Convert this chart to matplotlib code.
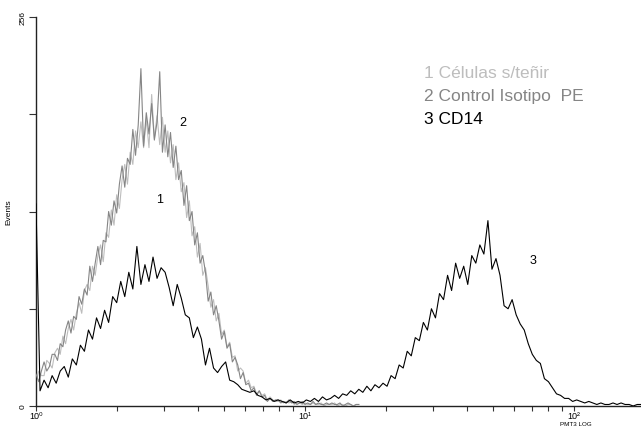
import numpy as np
import matplotlib
matplotlib.use("Agg")
import matplotlib.pyplot as plt
from matplotlib.ticker import LogLocator, NullFormatter, FixedLocator, FixedFormatter

plt.rcParams['font.family'] = ['Liberation Sans', 'DejaVu Sans']

# channel positions (log10 of fluorescence)
step12 = 0.01
step3 = 0.015

# 1 Células s/teñir (light gray)
s1 = [15, 23, 20, 20, 30, 28, 25, 35, 38, 34,
      46, 41, 51, 57, 50, 61, 68, 61, 76, 80,
      76, 92, 86, 99, 106, 95, 114, 111, 129, 119,
      139, 130, 149, 159, 146, 167, 159, 181, 170, 187,
      170, 189, 170, 205, 176, 191, 172, 190, 167, 181,
      160, 172, 149, 160, 141, 147, 124, 135, 112, 118,
      98, 107, 86, 91, 79, 65, 70, 56, 61, 47,
      50, 39, 42, 32, 33, 23, 25, 23, 15, 17,
      12, 13, 8, 10, 7, 8, 4, 6, 4, 3,
      3, 4, 2, 3, 2, 3, 1, 2, 2, 1,
      2, 1, 1, 2, 1, 1, 2, 0, 1, 1,
      1, 2, 0, 1, 1, 0, 1, 1, 0, 1, 1]

# 2 Control Isotipo PE (medium gray)
s2 = [21, 16, 23, 29, 23, 26, 34, 34, 30, 41,
      39, 50, 56, 48, 59, 57, 72, 67, 77, 73,
      92, 82, 94, 105, 93, 109, 108, 128, 119, 135,
      127, 146, 158, 144, 163, 159, 182, 165, 185, 222,
      171, 193, 179, 199, 175, 187, 220, 167, 185, 164,
      180, 157, 171, 149, 155, 132, 145, 122, 128, 106,
      114, 94, 99, 88, 69, 75, 60, 66, 56, 44,
      49, 38, 41, 29, 32, 27, 18, 22, 14, 15,
      10, 12, 7, 10, 6, 7, 3, 5, 3, 4,
      4, 2, 3, 2, 4, 2, 3, 1, 2, 3,
      1, 2, 1, 3, 1, 2, 1, 1, 2, 1,
      2, 1, 1, 2, 0, 1, 2, 1, 0, 1, 1]

# 3 CD14 (black)
s3 = [133, 10, 17, 12, 20, 15, 23, 26, 19, 31,
      27, 40, 36, 50, 44, 58, 51, 63, 55, 72,
      68, 82, 72, 88, 77, 105, 80, 93, 82, 98,
      84, 91, 88, 78, 66, 80, 71, 60, 58, 45,
      52, 44, 27, 38, 25, 22, 26, 29, 17, 16,
      14, 11, 10, 9, 10, 7, 6, 4, 5, 3,
      4, 3, 2, 4, 2, 3, 2, 4, 3, 5,
      3, 6, 4, 5, 7, 5, 8, 7, 10, 8,
      11, 9, 13, 10, 14, 12, 15, 13, 20, 18,
      27, 25, 36, 33, 45, 43, 55, 50, 64, 58,
      74, 70, 86, 76, 94, 84, 92, 80, 99, 94,
      106, 100, 122, 90, 97, 86, 66, 64, 70, 60,
      54, 50, 41, 34, 30, 28, 18, 16, 12, 8,
      7, 5, 5, 3, 4, 3, 2, 3, 2, 1,
      2, 1, 1, 2, 1, 2, 1, 1, 0, 1, 1, 0]

legend_labels = ["1 Células s/teñir", "2 Control Isotipo  PE", "3 CD14"]
colors = ["#bdbdbd", "#858585", "#000000"]
xtick_labels = ["10\u2070", "10\u00b9", "10\u00b2"]

x12 = 10 ** (np.arange(len(s1)) * step12)
x3 = 10 ** (np.arange(len(s3)) * step3)

fig = plt.figure(figsize=(6.41, 4.27), dpi=100)
ax = fig.add_axes([36 / 641, 20 / 427, 605 / 641, 389 / 427])

ax.plot(x12, s1, color=colors[0], lw=0.8, zorder=2)
ax.plot(x12, s2, color=colors[1], lw=0.8, zorder=3)
ax.plot(x3, s3, color=colors[2], lw=0.8, zorder=4)

ax.set_xscale('log')
ax.set_xlim(1, 10 ** (605 / 269))
ax.set_ylim(0, 256)

for sp in ['top', 'right']:
    ax.spines[sp].set_visible(False)
for sp in ['left', 'bottom']:
    ax.spines[sp].set_linewidth(1.0)
    ax.spines[sp].set_color('#222222')

ax.xaxis.set_major_locator(FixedLocator([1, 10, 100]))
ax.xaxis.set_major_formatter(FixedFormatter(xtick_labels))
ax.xaxis.set_minor_locator(LogLocator(base=10, subs=np.arange(2, 10), numticks=20))
ax.xaxis.set_minor_formatter(NullFormatter())
ax.tick_params(axis='x', which='both', direction='out', length=3.5, width=0.8,
               labelsize=6.5, pad=0, color='#333333')

ax.yaxis.set_major_locator(FixedLocator([0, 64, 128, 192, 256]))
ax.yaxis.set_major_formatter(FixedFormatter(["0", "", "", "", "256"]))
ax.tick_params(axis='y', which='major', direction='out', length=5, width=0.8,
               labelsize=6, pad=2, color='#333333')
for lbl in ax.get_yticklabels():
    lbl.set_rotation(90)
    lbl.set_va('center')

ax.set_ylabel("Events", fontsize=6, labelpad=5)
fig.text(576 / 641, 0.0, "PMT3 LOG", fontsize=4.5,
         ha='center', va='bottom')

# curve labels
ax.text(3.52, 187, "2", fontsize=9, ha='center', va='center')
ax.text(2.87, 136, "1", fontsize=9, ha='center', va='center')
ax.text(70.4, 96, "3", fontsize=9, ha='center', va='center')

# legend text
for k, (lab, c) in enumerate(zip(legend_labels, colors)):
    fig.text(424 / 641, 1 - (73 + 23.5 * k) / 427, lab, color=c, fontsize=12.5,
             ha='left', va='center')

fig.savefig("out.png", dpi=100)
